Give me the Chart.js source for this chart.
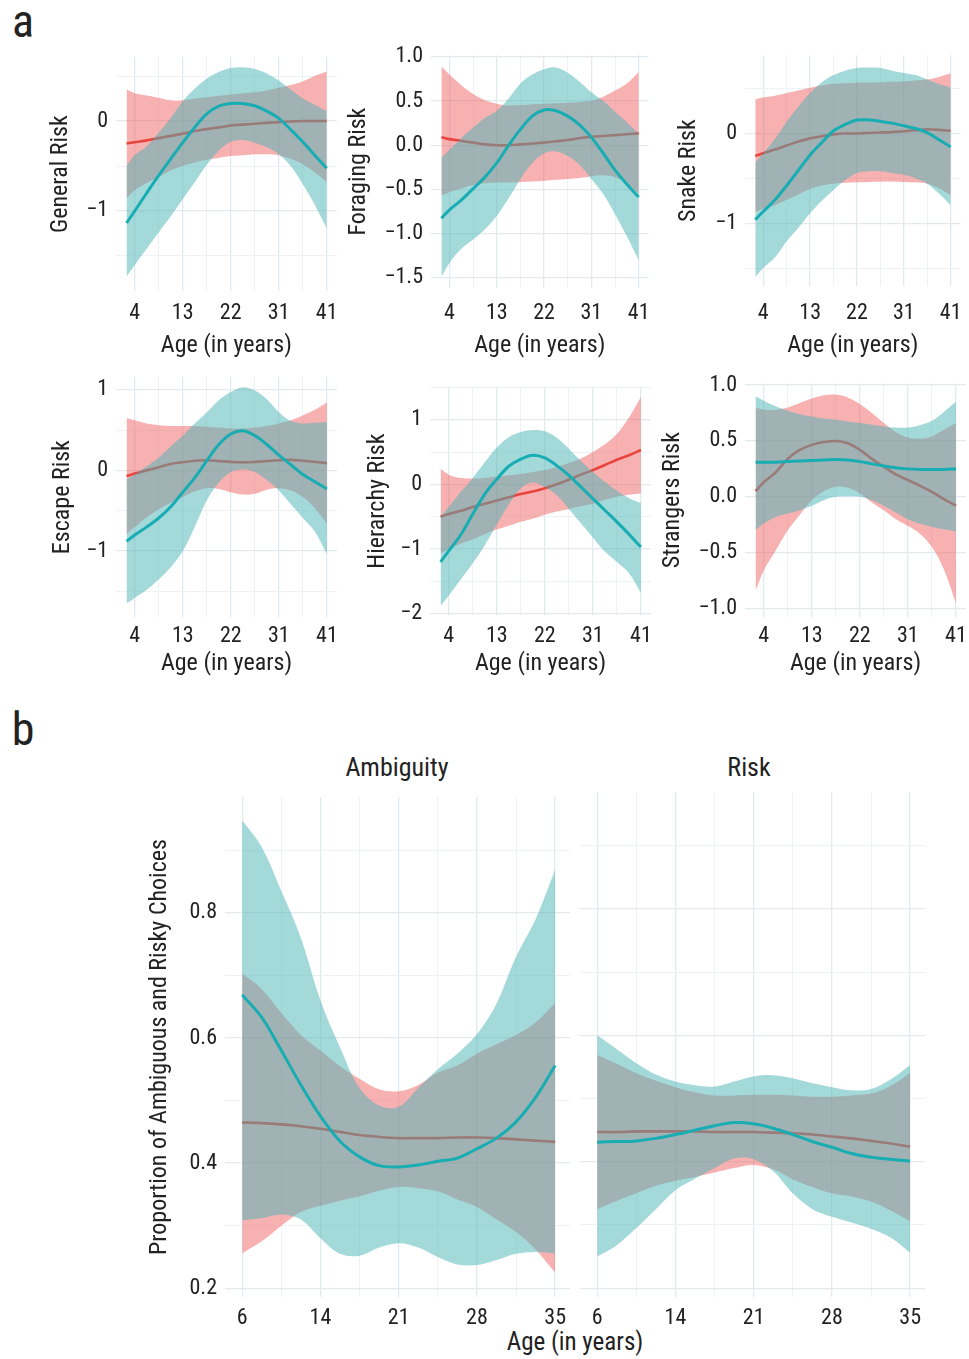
<!DOCTYPE html>
<html>
<head>
<meta charset="utf-8">
<script src="https://cdn.jsdelivr.net/npm/chart.js@4.4.1/dist/chart.umd.min.js"></script>
<style>
  html, body { margin: 0; padding: 0; background: #fff; overflow: hidden; }
  body { position: relative; width: 969px; height: 1359px; font-family: 'Liberation Sans Narrow', 'Roboto Condensed', 'DejaVu Sans Condensed', Roboto, sans-serif; color: #222; }
  canvas { position: absolute; }
  .lbl { position: absolute; transform: translate(-50%, -50%); white-space: nowrap; line-height: 1; }
</style>
</head>
<body>
<div class="lbl" style="left:23px;top:21px;font-size:46px;">a</div>
<div class="lbl" style="left:23px;top:729px;font-size:46px;">b</div>
<div class="lbl" style="left:397px;top:767px;font-size:26px;">Ambiguity</div>
<div class="lbl" style="left:749px;top:767px;font-size:26px;">Risk</div>
<div class="lbl" style="left:575px;top:1341px;font-size:25px;">Age (in years)</div>

<script>
// x positions are in tick-interval units: 0 = first labelled age, 4 = last
const topX = [-0.17, 0, 0.25, 0.5, 0.75, 1, 1.25, 1.5, 1.75, 2, 2.25, 2.5, 2.75, 3, 3.25, 3.5, 3.75, 4];
const topAgeLabels = ["4", "13", "22", "31", "41"];
const bX = [0, 0.25, 0.5, 0.75, 1, 1.25, 1.5, 1.75, 2, 2.25, 2.5, 2.75, 3, 3.25, 3.5, 3.75, 4];
const bAgeLabels = ["6", "14", "21", "28", "35"];

// General Risk
const generalTeal   = [-1.134, -1.0, -0.80, -0.605, -0.42, -0.24, -0.07, 0.08, 0.165, 0.195, 0.196, 0.17, 0.11, 0.03, -0.095, -0.23, -0.38, -0.525];
const generalTealHi = [-0.5, -0.38, -0.28, -0.13, 0.035, 0.22, 0.36, 0.47, 0.545, 0.59, 0.597, 0.58, 0.53, 0.45, 0.35, 0.25, 0.18, 0.11];
const generalTealLo = [-1.73, -1.6, -1.42, -1.24, -1.06, -0.87, -0.68, -0.49, -0.33, -0.23, -0.21, -0.24, -0.29, -0.37, -0.5, -0.7, -0.93, -1.19];
const generalRed    = [-0.25, -0.235, -0.215, -0.19, -0.165, -0.14, -0.11, -0.09, -0.07, -0.05, -0.04, -0.03, -0.02, -0.012, -0.005, 0, 0, 0];
const generalRedHi  = [0.35, 0.31, 0.285, 0.26, 0.23, 0.23, 0.25, 0.265, 0.28, 0.295, 0.31, 0.32, 0.34, 0.37, 0.4, 0.44, 0.5, 0.55];
const generalRedLo  = [-0.86, -0.77, -0.69, -0.62, -0.55, -0.5, -0.46, -0.43, -0.41, -0.39, -0.38, -0.37, -0.37, -0.38, -0.42, -0.48, -0.57, -0.68];

// Foraging Risk
const foragingTeal   = [-0.825, -0.73, -0.62, -0.49, -0.36, -0.2, 0.0, 0.18, 0.33, 0.4, 0.39, 0.33, 0.23, 0.09, -0.09, -0.28, -0.44, -0.585];
const foragingTealHi = [-0.14, -0.05, 0.08, 0.2, 0.31, 0.39, 0.53, 0.7, 0.8, 0.86, 0.88, 0.82, 0.72, 0.6, 0.5, 0.38, 0.26, 0.13];
const foragingTealLo = [-1.49, -1.33, -1.17, -1.065, -0.95, -0.8, -0.6, -0.38, -0.2, -0.09, -0.07, -0.12, -0.22, -0.38, -0.55, -0.78, -1.03, -1.3];
const foragingRed    = [0.09, 0.07, 0.05, 0.03, 0.01, 0.0, 0.0, 0.01, 0.02, 0.03, 0.045, 0.06, 0.08, 0.095, 0.105, 0.115, 0.125, 0.135];
const foragingRedHi  = [0.89, 0.8, 0.68, 0.58, 0.51, 0.47, 0.45, 0.455, 0.465, 0.47, 0.475, 0.48, 0.49, 0.505, 0.55, 0.62, 0.7, 0.83];
const foragingRedLo  = [-0.57, -0.53, -0.49, -0.45, -0.43, -0.42, -0.42, -0.415, -0.41, -0.4, -0.39, -0.38, -0.37, -0.35, -0.34, -0.36, -0.43, -0.55];

// Snake Risk
const snakeTeal   = [-0.96, -0.87, -0.74, -0.58, -0.41, -0.24, -0.1, 0.03, 0.1, 0.15, 0.15, 0.135, 0.115, 0.085, 0.055, 0.01, -0.07, -0.15];
const snakeTealHi = [-0.32, -0.22, -0.06, 0.13, 0.3, 0.45, 0.57, 0.65, 0.7, 0.73, 0.735, 0.73, 0.7, 0.675, 0.65, 0.6, 0.55, 0.51];
const snakeTealLo = [-1.6, -1.5, -1.38, -1.2, -1.05, -0.89, -0.75, -0.63, -0.52, -0.44, -0.42, -0.42, -0.44, -0.46, -0.5, -0.56, -0.67, -0.8];
const snakeRed    = [-0.25, -0.22, -0.18, -0.135, -0.09, -0.055, -0.03, -0.01, 0.0, 0.0, 0.005, 0.01, 0.015, 0.025, 0.035, 0.045, 0.04, 0.03];
const snakeRedHi  = [0.38, 0.4, 0.42, 0.45, 0.48, 0.51, 0.535, 0.555, 0.56, 0.565, 0.567, 0.57, 0.575, 0.58, 0.59, 0.6, 0.63, 0.67];
const snakeRedLo  = [-0.88, -0.84, -0.8, -0.74, -0.68, -0.62, -0.58, -0.56, -0.55, -0.545, -0.54, -0.537, -0.535, -0.54, -0.545, -0.56, -0.61, -0.69];

// Escape Risk
const escapeTeal   = [-0.88, -0.8, -0.7, -0.59, -0.45, -0.27, -0.09, 0.12, 0.32, 0.45, 0.49, 0.43, 0.32, 0.19, 0.07, -0.05, -0.14, -0.23];
const escapeTealHi = [-0.11, -0.05, 0.05, 0.16, 0.3, 0.43, 0.58, 0.72, 0.87, 0.97, 1.03, 0.99, 0.88, 0.72, 0.61, 0.58, 0.59, 0.6];
const escapeTealLo = [-1.65, -1.58, -1.48, -1.35, -1.2, -1.0, -0.7, -0.37, -0.15, -0.02, 0.015, -0.02, -0.12, -0.25, -0.42, -0.59, -0.76, -1.04];
const escapeRed    = [-0.07, -0.04, 0.0, 0.04, 0.08, 0.1, 0.12, 0.125, 0.115, 0.105, 0.1, 0.105, 0.115, 0.125, 0.13, 0.12, 0.105, 0.09];
const escapeRedHi  = [0.65, 0.62, 0.58, 0.56, 0.55, 0.55, 0.55, 0.54, 0.53, 0.52, 0.52, 0.53, 0.55, 0.58, 0.62, 0.68, 0.75, 0.84];
const escapeRedLo  = [-0.79, -0.7, -0.58, -0.48, -0.4, -0.33, -0.26, -0.22, -0.23, -0.27, -0.3, -0.29, -0.24, -0.22, -0.25, -0.33, -0.47, -0.66];

// Hierarchy Risk
const hierarchyTeal   = [-1.2, -1.03, -0.78, -0.46, -0.15, 0.08, 0.28, 0.39, 0.45, 0.41, 0.29, 0.14, -0.04, -0.22, -0.4, -0.58, -0.77, -0.97];
const hierarchyTealHi = [-0.5, -0.35, -0.12, 0.1, 0.34, 0.57, 0.73, 0.81, 0.84, 0.82, 0.72, 0.55, 0.36, 0.19, 0.04, -0.1, -0.21, -0.29];
const hierarchyTealLo = [-1.88, -1.72, -1.47, -1.22, -0.94, -0.62, -0.31, -0.06, 0.03, -0.04, -0.17, -0.38, -0.6, -0.82, -1.04, -1.2, -1.37, -1.68];
const hierarchyRed    = [-0.5, -0.46, -0.41, -0.35, -0.3, -0.25, -0.2, -0.15, -0.11, -0.06, 0.0, 0.07, 0.15, 0.22, 0.3, 0.38, 0.45, 0.53];
const hierarchyRedHi  = [0.24, 0.15, 0.1, 0.09, 0.1, 0.12, 0.14, 0.16, 0.19, 0.22, 0.27, 0.33, 0.4, 0.5, 0.62, 0.78, 1.03, 1.35];
const hierarchyRedLo  = [-1.07, -1.0, -0.92, -0.85, -0.77, -0.7, -0.64, -0.58, -0.53, -0.47, -0.42, -0.38, -0.34, -0.3, -0.24, -0.19, -0.16, -0.14];

// Strangers Risk
const strangersTeal   = [0.31, 0.31, 0.31, 0.315, 0.32, 0.325, 0.33, 0.335, 0.33, 0.315, 0.295, 0.275, 0.26, 0.25, 0.245, 0.245, 0.245, 0.25];
const strangersTealHi = [0.9, 0.86, 0.81, 0.77, 0.74, 0.72, 0.7, 0.69, 0.675, 0.66, 0.645, 0.63, 0.62, 0.62, 0.64, 0.68, 0.76, 0.85];
const strangersTealLo = [-0.3, -0.24, -0.18, -0.15, -0.12, -0.08, -0.03, 0.0, 0.005, 0.0, -0.03, -0.08, -0.14, -0.2, -0.24, -0.27, -0.29, -0.31];
const strangersRed    = [0.05, 0.13, 0.22, 0.34, 0.42, 0.465, 0.49, 0.5, 0.48, 0.42, 0.34, 0.27, 0.2, 0.15, 0.1, 0.045, -0.02, -0.08];
const strangersRedHi  = [0.8, 0.78, 0.78, 0.8, 0.84, 0.88, 0.91, 0.915, 0.89, 0.83, 0.75, 0.66, 0.58, 0.53, 0.52, 0.54, 0.6, 0.66];
const strangersRedLo  = [-0.84, -0.66, -0.48, -0.3, -0.16, -0.03, 0.05, 0.09, 0.08, 0.03, -0.05, -0.12, -0.2, -0.26, -0.33, -0.45, -0.65, -0.95];

// b: Ambiguity
const ambTeal   = [0.669, 0.633, 0.58, 0.525, 0.475, 0.435, 0.41, 0.396, 0.394, 0.397, 0.403, 0.408, 0.423, 0.44, 0.466, 0.505, 0.556];
const ambTealHi = [0.948, 0.905, 0.835, 0.76, 0.66, 0.585, 0.52, 0.492, 0.49, 0.52, 0.55, 0.575, 0.606, 0.655, 0.73, 0.79, 0.869];
const ambTealLo = [0.309, 0.312, 0.318, 0.31, 0.28, 0.255, 0.252, 0.265, 0.272, 0.265, 0.25, 0.238, 0.237, 0.245, 0.255, 0.258, 0.256];
const ambRed    = [0.465, 0.464, 0.462, 0.459, 0.455, 0.45, 0.445, 0.442, 0.44, 0.44, 0.44, 0.441, 0.441, 0.44, 0.438, 0.436, 0.434];
const ambRedHi  = [0.703, 0.678, 0.64, 0.605, 0.58, 0.555, 0.535, 0.518, 0.515, 0.525, 0.545, 0.556, 0.575, 0.59, 0.605, 0.625, 0.656];
const ambRedLo  = [0.256, 0.275, 0.3, 0.322, 0.332, 0.34, 0.347, 0.356, 0.362, 0.36, 0.355, 0.342, 0.33, 0.31, 0.29, 0.262, 0.225];

// b: Risk
const riskTeal   = [0.431, 0.432, 0.433, 0.437, 0.443, 0.45, 0.457, 0.462, 0.46, 0.453, 0.443, 0.432, 0.423, 0.413, 0.407, 0.404, 0.401];
const riskTealHi = [0.6, 0.578, 0.556, 0.538, 0.527, 0.521, 0.519, 0.527, 0.535, 0.537, 0.532, 0.524, 0.518, 0.513, 0.515, 0.53, 0.553];
const riskTealLo = [0.25, 0.268, 0.295, 0.325, 0.355, 0.373, 0.39, 0.405, 0.404, 0.385, 0.35, 0.325, 0.313, 0.304, 0.294, 0.28, 0.256];
const riskRed    = [0.447, 0.447, 0.448, 0.448, 0.448, 0.448, 0.447, 0.447, 0.447, 0.446, 0.445, 0.443, 0.44, 0.437, 0.433, 0.429, 0.424];
const riskRedHi  = [0.569, 0.555, 0.54, 0.528, 0.518, 0.51, 0.505, 0.505, 0.506, 0.506, 0.505, 0.503, 0.503, 0.505, 0.508, 0.52, 0.541];
const riskRedLo  = [0.325, 0.338, 0.35, 0.362, 0.37, 0.376, 0.383, 0.39, 0.395, 0.388, 0.372, 0.36, 0.35, 0.345, 0.337, 0.323, 0.306];

// tick / grid values
const xGrid = [0, 0.5, 1, 1.5, 2, 2.5, 3, 3.5, 4];
const gridOne = [-2, -1.5, -1, -0.5, 0, 0.5, 1, 1.5];
const gridHalf = [-1.5, -1.25, -1, -0.75, -0.5, -0.25, 0, 0.25, 0.5, 0.75, 1];
const gridB = [0.2, 0.3, 0.4, 0.5, 0.6, 0.7, 0.8, 0.9];

const FONT = "'Liberation Sans Narrow', 'Roboto Condensed', 'DejaVu Sans Condensed', Roboto, sans-serif";
const RED = "#e8453f";
const TEAL = "#17adb2";
const RED_BAND = "rgba(240,100,100,0.5)";
const TEAL_BAND = "rgba(74,180,182,0.5)";
const GRID_MAJOR = "#e2e9ef";
const GRID_MINOR = "#eef2f6";
const PAD_T = 16, PAD_R = 10;
const TICK_SIZE = 22, TITLE_SIZE = 24;

Chart.defaults.font.family = FONT;
Chart.defaults.color = "#222";

function near(a, b) { return Math.abs(a - b) < 1e-9; }

function fmt(v, dec) {
  const s = Math.abs(v).toFixed(dec);
  return v < -1e-9 ? "\u2212" + s : s;
}

function drawPanel(p) {
  const canvas = document.createElement("canvas");
  const yAxisW = p.chartLeft - p.canvasLeft;
  canvas.width = yAxisW + p.plotW + PAD_R;
  canvas.height = PAD_T + p.plotH + p.xAxisH;
  canvas.style.left = p.canvasLeft + "px";
  canvas.style.top = (p.chartTop - PAD_T) + "px";
  document.body.appendChild(canvas);

  const pts = ys => p.xs.map((x, i) => ({ x, y: ys[i] }));
  const base = { pointRadius: 0, tension: 0.35 };
  const edge = (ys, fill, bg, order) => Object.assign({}, base, {
    data: pts(ys), fill, backgroundColor: bg, borderColor: "transparent", borderWidth: 0, order
  });
  const line = (ys, color, width, order) => Object.assign({}, base, {
    data: pts(ys), fill: false, borderColor: color, borderWidth: width, order
  });

  new Chart(canvas, {
    type: "line",
    data: {
      datasets: [
        edge(p.redLo, false, "transparent", 6),
        edge(p.redHi, "-1", RED_BAND, 5),
        line(p.red, RED, 2.6, 4),
        edge(p.tealLo, false, "transparent", 3),
        edge(p.tealHi, "-1", TEAL_BAND, 2),
        line(p.teal, TEAL, 3, 1),
      ]
    },
    options: {
      responsive: false,
      animation: false,
      events: [],
      layout: { padding: { top: PAD_T, right: PAD_R, left: 0, bottom: 0 } },
      plugins: { legend: { display: false }, tooltip: { enabled: false } },
      scales: {
        x: {
          type: "linear",
          min: p.xMin,
          max: p.xMax,
          afterBuildTicks: s => { s.ticks = xGrid.map(v => ({ value: v })); },
          afterFit: s => { s.height = p.xAxisH; },
          border: { display: false },
          grid: {
            drawTicks: false,
            color: c => (c.tick && Number.isInteger(c.tick.value)) ? GRID_MAJOR : GRID_MINOR,
            lineWidth: c => (c.tick && Number.isInteger(c.tick.value)) ? 1.3 : 1,
          },
          ticks: {
            autoSkip: false, maxRotation: 0, minRotation: 0,
            padding: p.xTickPad,
            font: { size: TICK_SIZE },
            color: "#222",
            callback: v => Number.isInteger(v) ? p.xLabels[v] : "",
          },
          title: { display: !!p.xTitle, text: p.xTitle, font: { size: TITLE_SIZE }, color: "#222", padding: 0 },
        },
        y: {
          min: p.yMin,
          max: p.yMax,
          afterBuildTicks: s => { s.ticks = p.yGrid.filter(v => v >= p.yMin && v <= p.yMax).map(v => ({ value: v })); },
          afterFit: s => { s.width = yAxisW; },
          border: { display: false },
          grid: {
            drawTicks: false,
            color: c => (c.tick && p.yMajor.some(m => near(m, c.tick.value))) ? GRID_MAJOR : GRID_MINOR,
            lineWidth: c => (c.tick && p.yMajor.some(m => near(m, c.tick.value))) ? 1.3 : 1,
          },
          ticks: {
            display: p.showYTicks,
            padding: 8,
            font: { size: TICK_SIZE },
            color: "#222",
            callback: v => p.yMajor.some(m => near(m, v)) ? fmt(v, p.yDec) : "",
          },
          title: { display: !!p.yTitle, text: p.yTitle, font: { size: TITLE_SIZE }, color: "#222", padding: { top: 2, bottom: 0 } },
        }
      }
    }
  });
}

// top-row panels (a)
const TOP_W = 221;
const topCommon = { xs: topX, xLabels: topAgeLabels, xMin: -0.39, xMax: 4.21, plotW: TOP_W, xTitle: "Age (in years)", showYTicks: true };

drawPanel(Object.assign({}, topCommon, {
  canvasLeft: 45, chartLeft: 116, chartTop: 52, plotH: 239, xAxisH: 69, xTickPad: 9,
  yMin: -1.89, yMax: 0.71, yGrid: gridOne, yMajor: [-1, 0], yDec: 0, yTitle: "General Risk",
  teal: generalTeal, tealHi: generalTealHi, tealLo: generalTealLo, red: generalRed, redHi: generalRedHi, redLo: generalRedLo
}));
drawPanel(Object.assign({}, topCommon, {
  canvasLeft: 343, chartLeft: 431, chartTop: 50, plotH: 238, xAxisH: 72, xTickPad: 12,
  yMin: -1.614, yMax: 1.019, yGrid: gridHalf, yMajor: [-1.5, -1, -0.5, 0, 0.5, 1], yDec: 1, yTitle: "Foraging Risk",
  teal: foragingTeal, tealHi: foragingTealHi, tealLo: foragingTealLo, red: foragingRed, redHi: foragingRedHi, redLo: foragingRedLo
}));
drawPanel(Object.assign({}, topCommon, {
  canvasLeft: 673, chartLeft: 745, chartTop: 50, plotH: 236, xAxisH: 74, xTickPad: 14,
  yMin: -1.70, yMax: 0.872, yGrid: gridOne, yMajor: [-1, 0], yDec: 0, yTitle: "Snake Risk",
  teal: snakeTeal, tealHi: snakeTealHi, tealLo: snakeTealLo, red: snakeRed, redHi: snakeRedHi, redLo: snakeRedLo
}));

// second-row panels (a)
drawPanel(Object.assign({}, topCommon, {
  canvasLeft: 47, chartLeft: 116, chartTop: 372, plotH: 245, xAxisH: 61, xTickPad: 6,
  yMin: -1.816, yMax: 1.154, yGrid: gridOne, yMajor: [-1, 0, 1], yDec: 0, yTitle: "Escape Risk",
  teal: escapeTeal, tealHi: escapeTealHi, tealLo: escapeTealLo, red: escapeRed, redHi: escapeRedHi, redLo: escapeRedLo
}));
drawPanel(Object.assign({}, topCommon, {
  canvasLeft: 362, chartLeft: 430, chartTop: 382, plotH: 233, xAxisH: 63, xTickPad: 8,
  yMin: -2.02, yMax: 1.502, yGrid: gridOne, yMajor: [-2, -1, 0, 1], yDec: 0, yTitle: "Hierarchy Risk",
  teal: hierarchyTeal, tealHi: hierarchyTealHi, tealLo: hierarchyTealLo, red: hierarchyRed, redHi: hierarchyRedHi, redLo: hierarchyRedLo
}));
drawPanel(Object.assign({}, topCommon, {
  canvasLeft: 657, chartLeft: 745, chartTop: 378, plotH: 239, xAxisH: 61, xTickPad: 6,
  yMin: -1.076, yMax: 1.017, yGrid: gridHalf, yMajor: [-1, -0.5, 0, 0.5, 1], yDec: 1, yTitle: "Strangers Risk",
  teal: strangersTeal, tealHi: strangersTealHi, tealLo: strangersTealLo, red: strangersRed, redHi: strangersRedHi, redLo: strangersRedLo
}));

// panel b
const bCommon = { xs: bX, xLabels: bAgeLabels, xMin: -0.22, xMax: 4.19, plotW: 345, chartTop: 792, plotH: 505,
  xAxisH: 40, xTickPad: 8, yMin: 0.186, yMax: 0.985, yGrid: gridB, yMajor: [0.2, 0.4, 0.6, 0.8], yDec: 1, xTitle: "" };

drawPanel(Object.assign({}, bCommon, {
  canvasLeft: 144, chartLeft: 225, showYTicks: true, yTitle: "Proportion of Ambiguous and Risky Choices",
  teal: ambTeal, tealHi: ambTealHi, tealLo: ambTealLo, red: ambRed, redHi: ambRedHi, redLo: ambRedLo
}));
drawPanel(Object.assign({}, bCommon, {
  canvasLeft: 580, chartLeft: 580, showYTicks: false, yTitle: "",
  teal: riskTeal, tealHi: riskTealHi, tealLo: riskTealLo, red: riskRed, redHi: riskRedHi, redLo: riskRedLo
}));
</script>
</body>
</html>
